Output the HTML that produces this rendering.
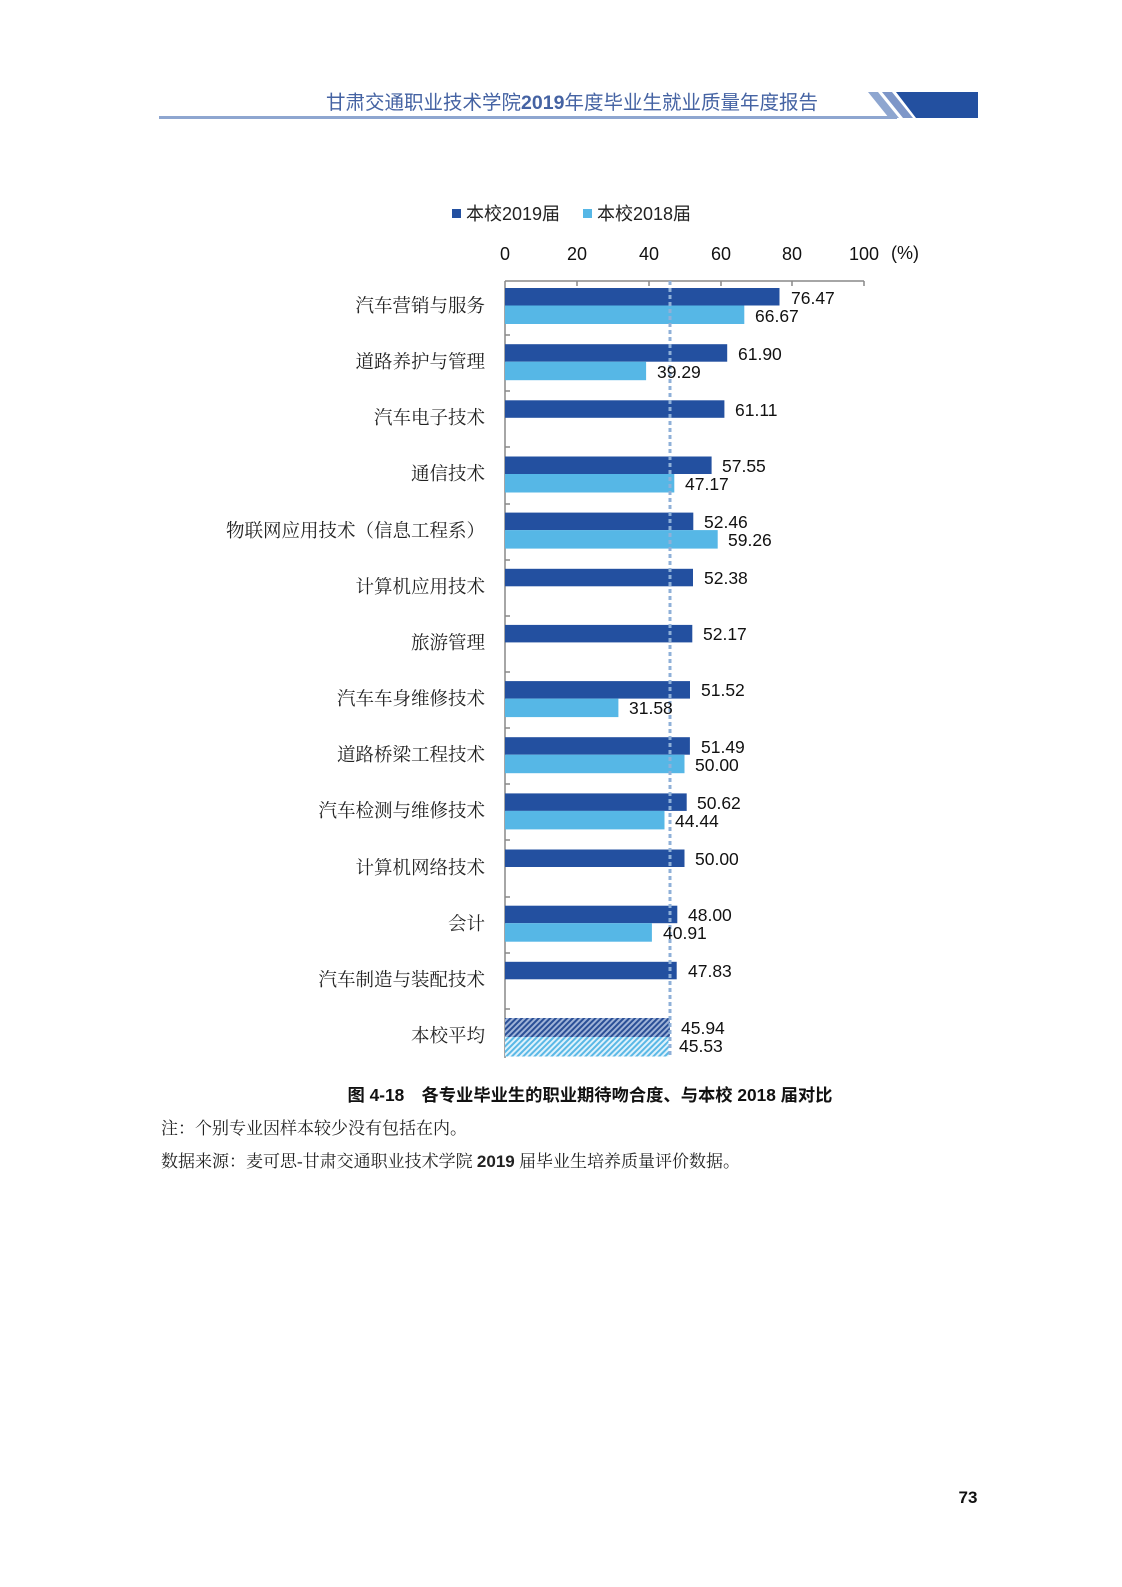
<!DOCTYPE html>
<html><head><meta charset="utf-8"><style>
html,body{margin:0;padding:0;background:#fff;}
svg{display:block;}
.cat{font-family:"Liberation Serif","Noto Serif CJK SC",serif;font-size:18.5px;fill:#222;text-anchor:end;}
.val{font-family:"Liberation Sans",sans-serif;font-size:17.5px;fill:#111;}
.tk{font-family:"Liberation Sans",sans-serif;font-size:18px;fill:#111;text-anchor:middle;}
</style></head><body>
<svg width="1122" height="1587" viewBox="0 0 1122 1587" xmlns="http://www.w3.org/2000/svg">
<defs>
<pattern id="hd" width="4" height="4" patternUnits="userSpaceOnUse" patternTransform="rotate(45)">
<rect width="4" height="4" fill="#9fb3d8"/><rect width="2" height="4" fill="#2a4f96"/></pattern>
<pattern id="hl" width="4" height="4" patternUnits="userSpaceOnUse" patternTransform="rotate(45)">
<rect width="4" height="4" fill="#e0f2fb"/><rect width="2" height="4" fill="#5ab8e6"/></pattern>
</defs>
<!-- header -->
<text x="572" y="109" text-anchor="middle" font-family="Liberation Sans,'Noto Sans CJK SC',sans-serif" font-size="19.5" fill="#4563a3">甘肃交通职业技术学院<tspan font-weight="bold">2019</tspan>年度毕业生就业质量年度报告</text>
<rect x="159" y="116" width="738" height="3" fill="#8ea6d0"/>
<polygon points="868,92 878,92 899,118 889,118" fill="#8ea6d0"/>
<polygon points="882,92 892,92 913,118 903,118" fill="#7d96c8"/>
<polygon points="896,92 978,92 978,118 916,118" fill="#2350a0"/>
<!-- legend -->
<rect x="452" y="209" width="9" height="9" fill="#2350a0"/>
<text x="466" y="220" font-family="Liberation Sans,'Noto Sans CJK SC',sans-serif" font-size="18" fill="#222">本校2019届</text>
<rect x="583" y="209" width="9" height="9" fill="#56b7e6"/>
<text x="597" y="220" font-family="Liberation Sans,'Noto Sans CJK SC',sans-serif" font-size="18" fill="#222">本校2018届</text>
<!-- tick labels -->
<text class="tk" x="505" y="260">0</text>
<text class="tk" x="577" y="260">20</text>
<text class="tk" x="649" y="260">40</text>
<text class="tk" x="721" y="260">60</text>
<text class="tk" x="792" y="260">80</text>
<text class="tk" x="864" y="260">100</text>
<text x="891" y="259" font-family="Liberation Sans,sans-serif" font-size="18" fill="#111">(%)</text>
<!-- axes -->
<g stroke="#888" stroke-width="1.5" fill="none">
<line x1="505" y1="281" x2="864" y2="281"/>
<line x1="505" y1="281" x2="505" y2="1058"/>
<line x1="577" y1="281" x2="577" y2="286"/><line x1="649" y1="281" x2="649" y2="286"/>
<line x1="721" y1="281" x2="721" y2="286"/><line x1="792" y1="281" x2="792" y2="286"/>
<line x1="864" y1="281" x2="864" y2="286"/>
<line x1="505" y1="335" x2="510" y2="335"/><line x1="505" y1="391" x2="510" y2="391"/>
<line x1="505" y1="447" x2="510" y2="447"/><line x1="505" y1="504" x2="510" y2="504"/>
<line x1="505" y1="560" x2="510" y2="560"/><line x1="505" y1="616" x2="510" y2="616"/>
<line x1="505" y1="672" x2="510" y2="672"/><line x1="505" y1="728" x2="510" y2="728"/>
<line x1="505" y1="784" x2="510" y2="784"/><line x1="505" y1="840" x2="510" y2="840"/>
<line x1="505" y1="897" x2="510" y2="897"/><line x1="505" y1="953" x2="510" y2="953"/>
<line x1="505" y1="1009" x2="510" y2="1009"/>
</g>
<!-- bars -->
<g fill="#2350a0">
<rect x="505" y="288" width="274.5" height="17.5"/>
<rect x="505" y="344.2" width="222.2" height="17.5"/>
<rect x="505" y="400.3" width="219.4" height="17.5"/>
<rect x="505" y="456.5" width="206.6" height="17.5"/>
<rect x="505" y="512.6" width="188.3" height="17.5"/>
<rect x="505" y="568.8" width="188.0" height="17.5"/>
<rect x="505" y="624.9" width="187.3" height="17.5"/>
<rect x="505" y="681.1" width="185.0" height="17.5"/>
<rect x="505" y="737.2" width="184.9" height="17.5"/>
<rect x="505" y="793.4" width="181.7" height="17.5"/>
<rect x="505" y="849.5" width="179.5" height="17.5"/>
<rect x="505" y="905.7" width="172.3" height="17.5"/>
<rect x="505" y="961.8" width="171.7" height="17.5"/>
</g>
<g fill="#56b7e6">
<rect x="505" y="305.5" width="239.3" height="18.5"/>
<rect x="505" y="361.7" width="141.1" height="18.5"/>
<rect x="505" y="474" width="169.3" height="18.5"/>
<rect x="505" y="530.1" width="212.7" height="18.5"/>
<rect x="505" y="698.6" width="113.4" height="18.5"/>
<rect x="505" y="754.7" width="179.5" height="18.5"/>
<rect x="505" y="810.9" width="159.5" height="18.5"/>
<rect x="505" y="923.2" width="146.9" height="18.5"/>
</g>
<rect x="505" y="1018" width="164.9" height="19" fill="url(#hd)"/>
<rect x="505" y="1037" width="163.5" height="19.5" fill="url(#hl)"/>
<line x1="670" y1="281" x2="670" y2="1058" stroke="#8fb0d8" stroke-width="3" stroke-dasharray="4,3"/>
<!-- values -->
<g class="val">
<text x="791" y="304">76.47</text><text x="755" y="322">66.67</text>
<text x="738" y="360">61.90</text><text x="657" y="378">39.29</text>
<text x="735" y="416">61.11</text>
<text x="722" y="472">57.55</text><text x="685" y="490">47.17</text>
<text x="704" y="528">52.46</text><text x="728" y="546">59.26</text>
<text x="704" y="584">52.38</text>
<text x="703" y="640">52.17</text>
<text x="701" y="696">51.52</text><text x="629" y="714">31.58</text>
<text x="701" y="753">51.49</text><text x="695" y="771">50.00</text>
<text x="697" y="809">50.62</text><text x="675" y="827">44.44</text>
<text x="695" y="865">50.00</text>
<text x="688" y="921">48.00</text><text x="663" y="939">40.91</text>
<text x="688" y="977">47.83</text>
<text x="681" y="1034">45.94</text><text x="679" y="1052">45.53</text>
</g>
<!-- categories -->
<g class="cat">
<text x="485" y="312">汽车营销与服务</text>
<text x="485" y="368">道路养护与管理</text>
<text x="485" y="424">汽车电子技术</text>
<text x="485" y="480">通信技术</text>
<text x="485" y="537">物联网应用技术（信息工程系）</text>
<text x="485" y="593">计算机应用技术</text>
<text x="485" y="649">旅游管理</text>
<text x="485" y="705">汽车车身维修技术</text>
<text x="485" y="761">道路桥梁工程技术</text>
<text x="485" y="817">汽车检测与维修技术</text>
<text x="485" y="874">计算机网络技术</text>
<text x="485" y="930">会计</text>
<text x="485" y="986">汽车制造与装配技术</text>
<text x="485" y="1042">本校平均</text>
</g>
<!-- caption -->
<text x="590" y="1101" text-anchor="middle" font-family="Liberation Sans,'Noto Sans CJK SC',sans-serif" font-size="17.3" font-weight="bold" fill="#111">图 4-18　各专业毕业生的职业期待吻合度、与本校 2018 届对比</text>
<text x="161" y="1134" font-family="Liberation Serif,'Noto Serif CJK SC',serif" font-size="17" fill="#222">注：个别专业因样本较少没有包括在内。</text>
<text x="161" y="1167" font-family="Liberation Serif,'Noto Serif CJK SC',serif" font-size="17" fill="#222">数据来源：麦可思-甘肃交通职业技术学院 <tspan font-family="Liberation Sans,sans-serif" font-weight="bold">2019</tspan> 届毕业生培养质量评价数据。</text>
<text x="968" y="1503" text-anchor="middle" font-family="Liberation Sans,sans-serif" font-size="17" font-weight="bold" fill="#111">73</text>
</svg>
</body></html>
